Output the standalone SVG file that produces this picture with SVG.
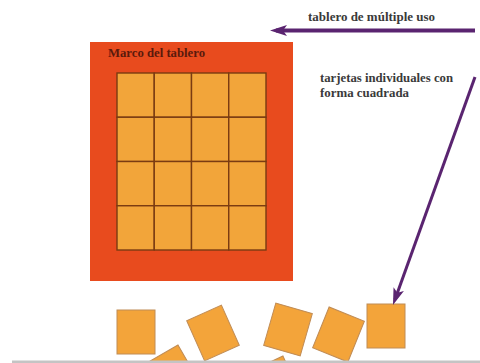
<svg xmlns="http://www.w3.org/2000/svg" width="480" height="363" viewBox="0 0 480 363">
  <defs>
    <style>
      .frame { fill: #E84B1E; }
      .cell { fill: #F2A53A; stroke: #7A3B12; stroke-width: 1.4; }
      .card { fill: #F3A43A; stroke: #C08C55; stroke-width: 1; }
      .lbl { font-family: "Liberation Serif", "Times New Roman", serif; font-weight: bold; font-size: 12px; }
      .dark { fill: #3A3A3A; }
      .brown { fill: #5A1A0C; }
      .conn { stroke: #5A2470; fill: none; }
    </style>
    <marker id="ah" markerUnits="userSpaceOnUse" markerWidth="18" markerHeight="12" refX="11" refY="5.5" orient="auto">
      <path d="M0,0 L17,5.5 L0,11 L4,5.5 z" fill="#5A2470"/>
    </marker>
    <rect id="c" x="-19" y="-22" width="38" height="44"/>
  </defs>
  <rect width="480" height="363" fill="#FFFFFF"/>

  <g id="tablero">
    <rect class="frame" x="90" y="42" width="203" height="239"/>
    <text class="lbl brown" x="108" y="56.5" textLength="97" lengthAdjust="spacingAndGlyphs">Marco del tablero</text>
    <g id="grid">
      <rect class="cell" x="117" y="73" width="37.25" height="44.25"/>
      <rect class="cell" x="154.25" y="73" width="37.25" height="44.25"/>
      <rect class="cell" x="191.5" y="73" width="37.25" height="44.25"/>
      <rect class="cell" x="228.75" y="73" width="37.25" height="44.25"/>
      <rect class="cell" x="117" y="117.25" width="37.25" height="44.25"/>
      <rect class="cell" x="154.25" y="117.25" width="37.25" height="44.25"/>
      <rect class="cell" x="191.5" y="117.25" width="37.25" height="44.25"/>
      <rect class="cell" x="228.75" y="117.25" width="37.25" height="44.25"/>
      <rect class="cell" x="117" y="161.5" width="37.25" height="44.25"/>
      <rect class="cell" x="154.25" y="161.5" width="37.25" height="44.25"/>
      <rect class="cell" x="191.5" y="161.5" width="37.25" height="44.25"/>
      <rect class="cell" x="228.75" y="161.5" width="37.25" height="44.25"/>
      <rect class="cell" x="117" y="205.75" width="37.25" height="44.25"/>
      <rect class="cell" x="154.25" y="205.75" width="37.25" height="44.25"/>
      <rect class="cell" x="191.5" y="205.75" width="37.25" height="44.25"/>
      <rect class="cell" x="228.75" y="205.75" width="37.25" height="44.25"/>
    </g>
  </g>

  <g id="label-tablero">
    <text class="lbl dark" x="308" y="21" textLength="127" lengthAdjust="spacingAndGlyphs">tablero de múltiple uso</text>
  </g>

  <g id="label-tarjetas">
    <text class="lbl dark" x="320" y="82" textLength="133" lengthAdjust="spacingAndGlyphs">tarjetas individuales con</text>
    <text class="lbl dark" x="320" y="97" textLength="89" lengthAdjust="spacingAndGlyphs">forma cuadrada</text>
  </g>

  <g id="tarjetas">
    <use href="#c" class="card" transform="translate(172.5,373.5) rotate(-30)"/>
    <use href="#c" class="card" transform="translate(275,384) rotate(-25)"/>
    <use href="#c" class="card" transform="translate(136,332)"/>
    <use href="#c" class="card" transform="translate(213,333) rotate(-24)"/>
    <use href="#c" class="card" transform="translate(288,329.5) rotate(16)"/>
    <use href="#c" class="card" transform="translate(338.5,334.5) rotate(22)"/>
    <use href="#c" class="card" transform="translate(386,326)"/>
  </g>

  <g id="connectors">
    <line class="conn" x1="475" y1="30.5" x2="276" y2="30.5" stroke-width="4" marker-end="url(#ah)"/>
    <line class="conn" x1="475" y1="77" x2="395" y2="299.4" stroke-width="3" marker-end="url(#ah)"/>
  </g>

  <rect x="12" y="360.5" width="468" height="2.5" fill="#C4C4C4"/>
</svg>
